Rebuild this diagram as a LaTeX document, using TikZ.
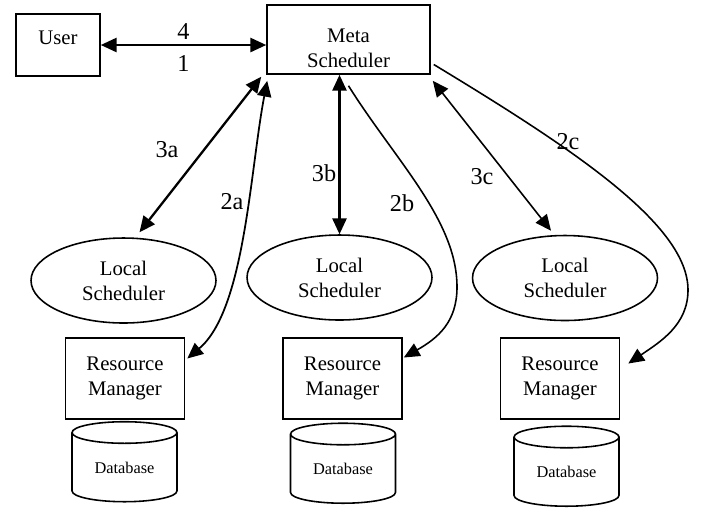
\documentclass[tikz,border=0pt]{standalone}
\usepackage{fontspec}
\setmainfont{Liberation Serif}
\usetikzlibrary{arrows.meta,shapes.geometric,calc}

\begin{document}
\begin{tikzpicture}[%
        x = 0.02cm, y = -0.02cm,
        >={Triangle[length=9pt,width=8pt]},
        box/.style = {draw, line width=0.9pt, inner sep=0pt, align=center,
          font=\fontsize{11.8}{14.2}\selectfont},
        sched/.style = {draw, ellipse, line width=0.9pt, inner sep=0pt,
          minimum width=3.7cm, minimum height=1.7cm, align=center,
          font=\fontsize{11.8}{14.2}\selectfont},
        manager/.style = {box, minimum width=2.38cm, minimum height=1.62cm},
        db/.style = {draw, cylinder, shape border rotate=90, aspect=0.36,
          line width=0.9pt, inner sep=0pt, minimum width=2.1cm,
          minimum height=1.6cm, font=\fontsize{9.3}{11}\selectfont},
        num/.style = {font=\fontsize{13.8}{16}\selectfont, inner sep=0pt},
        thick arrow/.style = {<->, line width=1.3pt},
        thin arrow/.style = {line width=0.9pt}
    ]
      \useasboundingbox (0,0) rectangle (709,512);

      \node (user) [box, minimum width=1.68cm, minimum height=1.24cm,
        text height=8pt, text depth=9pt] at (58,45) {User};
      \node (meta) [box, minimum width=3.26cm, minimum height=1.38cm,
        text height=35pt, text depth=3pt] at (348.5,39.5) {Meta\\Scheduler};

      \node (ls1) [sched] at (123.5,280.5) {Local\\Scheduler};
      \node (ls2) [sched] at (339.5,277.5) {Local\\Scheduler};
      \node (ls3) [sched] at (565,278) {Local\\Scheduler};

      \node (rm1) [manager] at (125,378.5) {Resource\\Manager};
      \node (rm2) [manager] at (342.5,378.5) {Resource\\Manager};
      \node (rm3) [manager] at (560,378.5) {Resource\\Manager};

      \node (db1) [db] at (124.5,467.5) {Database};
      \node (db2) [db] at (343,469) {Database};
      \node (db3) [db] at (566.5,472) {Database};

      % user <-> meta scheduler
      \draw [thick arrow] (user.east) -- (user.east -| meta.west)
        node (l4) [num, midway, yshift=7.4pt] {4}
        node (l1) [num, midway, yshift=-10.8pt] {1};

      % meta scheduler <-> local schedulers
      \draw [thick arrow] ($(meta.south west)+(-5,2)$) -- ($(ls1.north)+(16,-5)$);
      \draw [thick arrow] (ls2.north |- meta.south) -- (ls2.north);
      \draw [thin arrow, <->] ($(meta.south east)+(2,6)$) -- ($(ls3.north)+(-14,-4)$);

      % meta scheduler -> resource managers
      \draw [<->, line width=1pt] ($(rm1.east)+(2,-20)$)
        .. controls (245,310) and (250,170) .. ($(meta.south west)+(1,6)$);
      \draw [thin arrow, ->] ($(meta.south)+(0,11)$)
        .. controls (395,160) and (457,220) .. (457,287)
        .. controls (457,322) and (438,338) .. ($(rm2.east)+(1,-21)$);
      \draw [thin arrow, ->] ($(meta.east)+(3,25)$)
        .. controls (575,150) and (688,225) .. (688,290)
        .. controls (688,325) and (660,342) .. ($(rm3.east)+(8,-15)$);

      \node (l3a) [num] at (167,150) {3a};
      \node (l2a) [num] at (232,202) {2a};
      \node (l3b) [num] at (324,173) {3b};
      \node (l2b) [num] at (402,203) {2b};
      \node (l3c) [num] at (482,177) {3c};
      \node (l2c) [num] at (568,142) {2c};
\end{tikzpicture}
\end{document}
